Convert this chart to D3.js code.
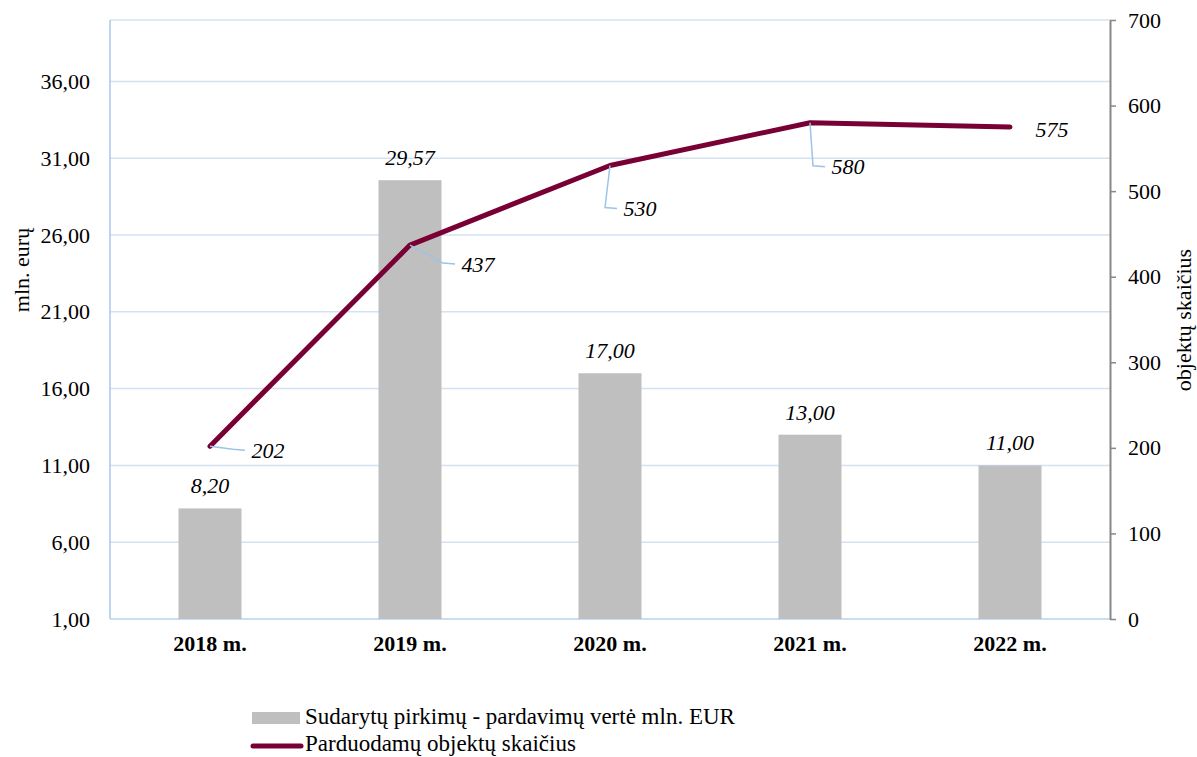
<!DOCTYPE html>
<html>
<head>
<meta charset="utf-8">
<script src="https://cdn.jsdelivr.net/npm/d3@7"></script>
<style>
  body { margin: 0; background: #fff; }
  svg { font-family: "Liberation Serif", "Times New Roman", serif; }
</style>
</head>
<body>
<svg id="chart"></svg>
<script>
var years = ["2018 m.", "2019 m.", "2020 m.", "2021 m.", "2022 m."];
var dealValues = [8.20, 29.57, 17.00, 13.00, 11.00];
var objectCounts = [202, 437, 530, 580, 575];
var leftTicks = [1, 6, 11, 16, 21, 26, 31, 36];
var rightTicks = [0, 100, 200, 300, 400, 500, 600, 700];
var legendNames = ["Sudarytų pirkimų - pardavimų vertė mln. EUR", "Parduodamų objektų skaičius"];

// label placement for line values: [dx, dy] of text from the point
var lineLabelOffset = [[58, 4], [68, 19], [30, 43], [38, 44], [42, 2]];

var width = 1197, height = 757,
    margin = {top: 20, right: 87, bottom: 138, left: 110},
    w = width - margin.left - margin.right,
    h = height - margin.top - margin.bottom,
    fs = 22;

var svg = d3.select("#chart").attr("width", width).attr("height", height);
var g = svg.append("g").attr("transform", "translate(" + margin.left + "," + margin.top + ")");

var x = d3.scaleBand().domain(years).range([0, w]).paddingInner(0.685).paddingOuter(0.3425);
var xc = function(d){ return x(d) + x.bandwidth() / 2; };
var yL = d3.scaleLinear().domain([1, 40]).range([h, 0]);
var yR = d3.scaleLinear().domain([0, 700]).range([h, 0]);
var fmt = function(v){ return v.toFixed(2).replace(".", ","); };

// gridlines
g.selectAll("line.grid").data(leftTicks.concat([40])).enter().append("line")
    .attr("x1", 0).attr("x2", w)
    .attr("y1", function(d){ return yL(d); }).attr("y2", function(d){ return yL(d); })
    .attr("stroke", "#d3e2f2").attr("stroke-width", 1.5);
g.append("line").attr("x1", 0).attr("x2", 0).attr("y1", 0).attr("y2", h)
    .attr("stroke", "#a9c8ea").attr("stroke-width", 1.5);
g.append("line").attr("x1", 0).attr("x2", w).attr("y1", h).attr("y2", h)
    .attr("stroke", "#c5d9ef").attr("stroke-width", 1.5);

// left axis
var yAxisL = d3.axisLeft(yL).tickValues(leftTicks).tickFormat(fmt).tickSize(0).tickPadding(20);
var gl = g.append("g").call(yAxisL);
gl.select(".domain").remove();
gl.attr("font-family", null).attr("font-size", fs);
gl.selectAll("text").attr("fill", "#000");

// right axis
var yAxisR = d3.axisRight(yR).tickValues(rightTicks).tickSizeOuter(0).tickSizeInner(6).tickPadding(12);
var gr = g.append("g").attr("transform", "translate(" + w + ",0)").call(yAxisR);
gr.attr("font-family", null).attr("font-size", fs);
gr.select(".domain").attr("stroke", "#878787").attr("stroke-width", 2);
gr.selectAll(".tick line").attr("stroke", "#878787").attr("stroke-width", 1.5);
gr.selectAll("text").attr("fill", "#000");

// x axis
var xAxis = d3.axisBottom(x).tickSize(0).tickPadding(16);
var gx = g.append("g").attr("transform", "translate(0," + h + ")").call(xAxis);
gx.select(".domain").remove();
gx.attr("font-family", null).attr("font-size", fs).attr("font-weight", "bold");
gx.selectAll("text").attr("fill", "#000");

// axis titles
svg.append("text").attr("transform", "translate(29,270) rotate(-90)")
    .attr("text-anchor", "middle").attr("font-size", fs).text("mln. eurų");
svg.append("text").attr("transform", "translate(1191,320) rotate(-90)")
    .attr("text-anchor", "middle").attr("font-size", fs).text("objektų skaičius");

// bars
g.selectAll("rect.bar").data(dealValues).enter().append("rect")
    .attr("x", function(d, i){ return x(years[i]); })
    .attr("width", x.bandwidth())
    .attr("y", function(d){ return yL(d); })
    .attr("height", function(d){ return h - yL(d); })
    .attr("fill", "#bfbfbf");

g.selectAll("text.barlab").data(dealValues).enter().append("text")
    .attr("x", function(d, i){ return xc(years[i]); })
    .attr("y", function(d){ return yL(d) - 15; })
    .attr("text-anchor", "middle").attr("font-size", fs).attr("font-style", "italic")
    .text(fmt);

// line
var line = d3.line()
    .x(function(d, i){ return xc(years[i]); })
    .y(function(d){ return yR(d); });
g.append("path").datum(objectCounts).attr("d", line)
    .attr("fill", "none").attr("stroke", "#790035").attr("stroke-width", 5)
    .attr("stroke-linejoin", "round").attr("stroke-linecap", "round");

// leader lines + labels for line
objectCounts.forEach(function(d, i){
    var px = xc(years[i]), py = yR(d), o = lineLabelOffset[i];
    if (i < objectCounts.length - 1) {
        var ex = px + o[0] - 23, ey = py + o[1];
        g.append("path")
            .attr("d", "M" + px + "," + py + "L" + (ex - 12) + "," + (ey - 1) + "L" + ex + "," + ey)
            .attr("fill", "none").attr("stroke", "#9dc3e6").attr("stroke-width", 1.5);
    }
    g.append("text").attr("x", px + o[0]).attr("y", py + o[1])
        .attr("dy", "0.35em").attr("text-anchor", "middle")
        .attr("font-size", fs).attr("font-style", "italic").text(d);
});

// legend
var lg = svg.append("g");
lg.append("rect").attr("x", 252).attr("y", 712).attr("width", 48).attr("height", 12).attr("fill", "#bfbfbf");
lg.append("line").attr("x1", 253).attr("x2", 301).attr("y1", 746).attr("y2", 746)
    .attr("stroke", "#790035").attr("stroke-width", 5).attr("stroke-linecap", "round");
lg.selectAll("text").data(legendNames).enter().append("text")
    .attr("x", 305).attr("y", function(d, i){ return 724 + i * 27; })
    .attr("font-size", 23).text(function(d){ return d; });
</script>
</body>
</html>
